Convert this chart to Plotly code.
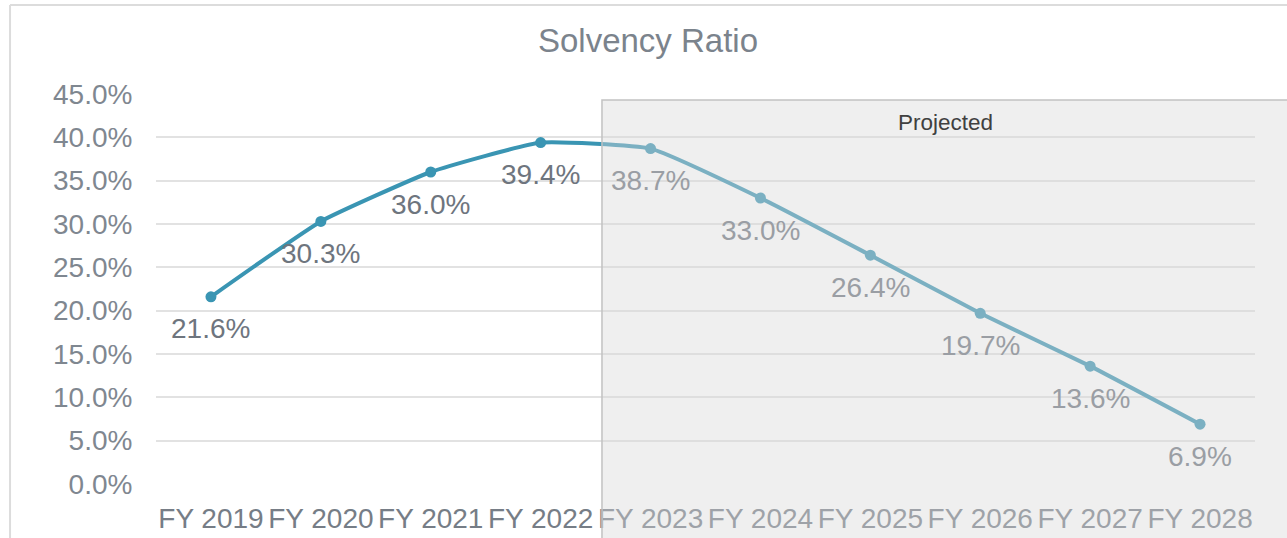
import plotly.graph_objects as go

years = ["FY 2019", "FY 2020", "FY 2021", "FY 2022", "FY 2023",
         "FY 2024", "FY 2025", "FY 2026", "FY 2027", "FY 2028"]
solvency = [21.6, 30.3, 36.0, 39.4, 38.7, 33.0, 26.4, 19.7, 13.6, 6.9]
projected = [False, False, False, False, True, True, True, True, True, True]

FONT = "Liberation Sans, Arial, sans-serif"

fig = go.Figure()
fig.add_trace(go.Scatter(
    x=years, y=solvency,
    mode="lines+markers",
    line=dict(color="#3a95b3", width=4, shape="spline", smoothing=0.4),
    marker=dict(color="#3a95b3", size=11),
    hoverinfo="x+y",
    showlegend=False,
))

# value labels under each point
for yr, v, proj in zip(years, solvency, projected):
    fig.add_annotation(
        x=yr, y=v, text=f"{v:.1f}%", showarrow=False,
        yshift=-32, xanchor="center", yanchor="middle",
        font=dict(family=FONT, size=28, color="#9a9ea4" if proj else "#6e757e"),
    )

# outer chart frame (top and left edges visible)
fig.add_shape(type="line", xref="paper", yref="paper",
              x0=-0.1328, x1=1.2, y0=1.228, y1=1.228,
              line=dict(color="#dcdcdc", width=2), layer="below")
fig.add_shape(type="line", xref="paper", yref="paper",
              x0=-0.1328, x1=-0.1328, y0=1.228, y1=-0.3,
              line=dict(color="#dcdcdc", width=2), layer="below")

# projected overlay
fig.add_shape(type="rect", xref="paper", yref="paper",
              x0=0.4058, x1=1.05, y0=-0.3, y1=0.9846,
              fillcolor="rgba(216,216,216,0.41)",
              line=dict(color="#c2c2c2", width=1.5), layer="above")
fig.add_annotation(
    x=0.718, y=0.928, xref="paper", yref="paper", text="Projected",
    showarrow=False, xanchor="center", yanchor="middle",
    font=dict(family=FONT, size=22.5, color="#404040"),
)

fig.update_layout(
    width=1287, height=538,
    margin=dict(l=156, r=32, t=94, b=54),
    paper_bgcolor="white",
    plot_bgcolor="white",
    font=dict(family=FONT, color="#787f88"),
    title=dict(text="Solvency Ratio", x=0.5035, xanchor="center",
               y=0.924, yanchor="middle",
               font=dict(family=FONT, size=33, color="#7b838c")),
)
fig.update_xaxes(
    type="category", range=[-0.5, 9.5], tickangle=0,
    showgrid=False, showline=False, zeroline=False, automargin=False,
    ticks="outside", ticklen=9, tickcolor="rgba(0,0,0,0)",
    tickfont=dict(family=FONT, size=28, color="#767d86"),
)
fig.update_yaxes(
    range=[0, 45], dtick=5, tickformat=".1f", ticksuffix="%",
    showgrid=True, gridcolor="#e2e2e2", gridwidth=1.5,
    zeroline=False, showline=False, automargin=False,
    ticks="outside", ticklen=17, tickcolor="rgba(0,0,0,0)",
    tickfont=dict(family=FONT, size=28, color="#7f8790"),
)

# drop the default page margin so the figure sits at the window corner
fig.write_html("out.html", config={"displayModeBar": False},
               post_script="document.body.style.margin='0';")
